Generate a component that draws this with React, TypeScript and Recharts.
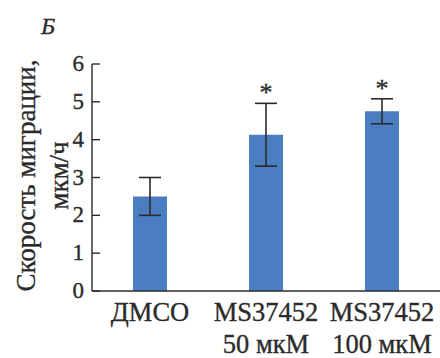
import { BarChart, Bar, XAxis, YAxis, ErrorBar, LabelList, Label } from 'recharts'

const categories = ['ДМСО', 'MS37452', 'MS37452']
const subLabels = ['', '50 мкМ', '100 мкМ']
const speeds = [2.5, 4.13, 4.75]
const errors = [0.5, 0.83, 0.33]
const marks = ['', '*', '*']
const yTicks = [0, 1, 2, 3, 4, 5, 6]

const data = categories.map((name, i) => ({
  name,
  sub: subLabels[i],
  speed: speeds[i],
  err: errors[i],
  mark: marks[i],
}))

const FONT = "'Liberation Serif', 'Times New Roman', Times, serif"
const INK = '#2b2b2b'
const BAR = '#4a7ec1'
// the source text is a bit heavier than Liberation Serif regular
const serif = { fontFamily: FONT, stroke: INK, strokeWidth: 0.35 }

function YTick(props: any) {
  const { x, y, payload } = props
  const axisX = x + 8
  return (
    <g>
      <line x1={axisX} x2={axisX + 8} y1={y} y2={y} stroke={INK} strokeWidth={1.4} />
      <text x={x} y={y + 7} textAnchor="end" style={{ ...serif, fontSize: 23 }} fill={INK}>
        {payload.value}
      </text>
    </g>
  )
}

function XTick(props: any) {
  const { x, y, index } = props
  return (
    <g style={{ ...serif, fontSize: 26.5 }} fill={INK} textAnchor="middle">
      <text x={x} y={y + 30}>{categories[index]}</text>
      {subLabels[index] && <text x={x} y={y + 62}>{subLabels[index]}</text>}
    </g>
  )
}

function Star(props: any) {
  const { x, y, width, height, index } = props
  if (!marks[index]) return null
  const ppu = height / speeds[index]
  const top = y - errors[index] * ppu
  return (
    <text x={x + width / 2} y={top - 2} textAnchor="middle" style={{ ...serif, fontSize: 26 }} fill={INK}>
      {marks[index]}
    </text>
  )
}

function YTitle(props: any) {
  const { viewBox } = props
  const cy = viewBox.y + viewBox.height / 2 - 2
  return (
    <g fill={INK}>
      <text x={41} y={34} style={{ ...serif, fontSize: 24, fontStyle: 'italic' }}>Б</text>
      <text x={35} y={cy} style={{ ...serif, fontSize: 27 }} textAnchor="middle" transform={`rotate(-90, 35, ${cy})`}>
        Скорость миграции,
      </text>
      <text x={68} y={cy} style={{ ...serif, fontSize: 27 }} textAnchor="middle" transform={`rotate(-90, 68, ${cy})`}>
        мкм/ч
      </text>
    </g>
  )
}

export default function App() {
  return (
    <div style={{ position: 'absolute', left: 0, top: 0, background: '#fff' }}>
      <BarChart
        width={440}
        height={358}
        data={data}
        margin={{ top: 64, right: 0, bottom: 0, left: 0 }}
      >
        <XAxis
          dataKey="name"
          height={67}
          tickLine={false}
          tickSize={0}
          tickMargin={0}
          tick={<XTick />}
          axisLine={{ stroke: INK, strokeWidth: 1.4 }}
          interval={0}
        />
        <YAxis
          width={92}
          domain={[0, 6]}
          ticks={yTicks}
          tickLine={false}
          tickSize={0}
          tickMargin={8}
          tick={<YTick />}
          axisLine={{ stroke: INK, strokeWidth: 1.4 }}
        >
          <Label content={<YTitle />} />
        </YAxis>
        <Bar dataKey="speed" fill={BAR} barSize={34} isAnimationActive={false}>
          <ErrorBar dataKey="err" width={11} stroke={INK} strokeWidth={1.6} />
          <LabelList dataKey="mark" content={<Star />} />
        </Bar>
      </BarChart>
    </div>
  )
}
